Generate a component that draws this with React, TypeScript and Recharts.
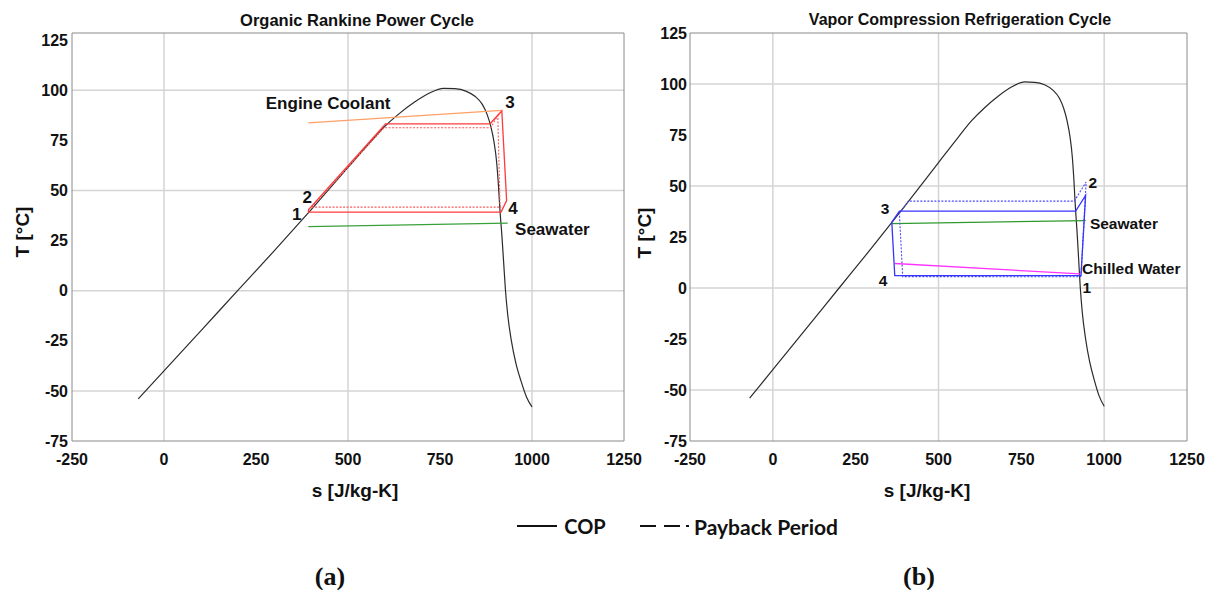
import React from "react";
import { LineChart, Line, XAxis, YAxis, ReferenceLine, ReferenceDot } from "recharts";

type Pt = { s: number; T: number };
const pts = (s: number[], T: number[]): Pt[] => s.map((v, i) => ({ s: v, T: T[i] }));
const range = (a: number, b: number, step: number) => {
  const out: number[] = [];
  for (let v = a; v <= b + 1e-9; v += step) out.push(v);
  return out;
};

// axes
const xTicks = [-250, 0, 250, 500, 750, 1000, 1250];
const yTicks = [-75, -50, -25, 0, 25, 50, 75, 100, 125];
const xMinor = range(-250, 1250, 50);
const yMinor = range(-75, 125, 5);
const xGrid = [0, 500, 1000];
const yGrid = [-50, 0, 50, 100];

// saturation dome, T-s
const domeS = [-70, 0, 100, 200, 300, 400, 500, 560, 600, 640, 680, 720, 760, 790, 820, 845, 865, 878, 888, 897, 904, 909, 913, 918, 923, 928, 934, 944, 956, 970, 985, 1000];
const domeT = [-54, -40, -20, 0, 20, 40.5, 61.5, 74, 82, 88.5, 94, 98.5, 101, 100.8, 99.6, 97, 93, 88, 82, 74, 64, 52, 40, 28, 14, 0, -12, -25, -36, -45, -53, -58];

// organic Rankine cycle: COP optimum (solid) / payback optimum (dashed)
const orcCopS = [392, 393, 602, 886, 918, 931, 916, 392];
const orcCopT = [39.2, 40.5, 83.3, 83.3, 89.7, 45, 39.2, 39.2];
const orcPayS = [401, 598, 888, 907, 913, 915, 401];
const orcPayT = [41.7, 81.3, 81.3, 87.5, 43, 41.7, 41.7];
const coolantS = [392, 918];
const coolantT = [83.8, 90];
const seaOrcS = [392, 934];
const seaOrcT = [32, 33.7];

// vapour compression cycle
const vcrCopS = [930, 944, 914, 382, 359, 368, 930];
const vcrCopT = [6.1, 45.4, 37.7, 37.7, 32.3, 6.1, 6.1];
const vcrPayS = [930, 945.5, 910, 409, 382, 392, 930];
const vcrPayT = [5.5, 52, 42.6, 42.6, 36.5, 5.6, 5.5];
const seaVcrS = [359, 944];
const seaVcrT = [31.6, 33];
const chilledS = [368, 927];
const chilledT = [12, 6.9];

type Note = { s: number; T: number; text: string; start?: boolean };
const orcNotes: Note[] = [
  { s: 446, T: 93.5, text: "Engine Coolant" },
  { s: 940, T: 94, text: "3" },
  { s: 389, T: 47, text: "2" },
  { s: 361, T: 38.5, text: "1" },
  { s: 948, T: 41.5, text: "4" },
  { s: 954, T: 31, text: "Seawater", start: true },
];
const vcrNotes: Note[] = [
  { s: 339, T: 39, text: "3" },
  { s: 966, T: 51.8, text: "2" },
  { s: 957, T: 31.6, text: "Seawater", start: true },
  { s: 933, T: 9.5, text: "Chilled Water", start: true },
  { s: 333, T: 3.6, text: "4" },
  { s: 948, T: 0.2, text: "1" },
];

type Series = { data: Pt[]; color: string; dash?: string; width?: number; smooth?: boolean };

const dome: Series = { data: pts(domeS, domeT), color: "#2b2b2b", width: 1.2, smooth: true };
const orcSeries: Series[] = [
  dome,
  { data: pts(coolantS, coolantT), color: "#ffa066", width: 1.3 },
  { data: pts(seaOrcS, seaOrcT), color: "#3aa03a", width: 1.3 },
  { data: pts(orcPayS, orcPayT), color: "#ff5a5a", dash: "2 1.5", width: 1.1 },
  { data: pts(orcCopS, orcCopT), color: "#ff3a3a", width: 1.3 },
];
const vcrSeries: Series[] = [
  dome,
  { data: pts(seaVcrS, seaVcrT), color: "#2e9a2e", width: 1.3 },
  { data: pts(chilledS, chilledT), color: "#ff33ff", width: 1.3 },
  { data: pts(vcrPayS, vcrPayT), color: "#4a4aff", dash: "2 1.5", width: 1.1 },
  { data: pts(vcrCopS, vcrCopT), color: "#3535ff", width: 1.3 },
];

const SANS = "'Liberation Sans', Arial, sans-serif";
const tickStyle = { fontSize: 16, fontWeight: 700, fill: "#111", fontFamily: SANS };
const edge = "#8a8a8a";

interface PanelProps {
  width: number;
  height: number;
  margin: { top: number; right: number; bottom: number; left: number };
  yMax: number;
  yAxisWidth: number;
  yTickMargin: number;
  noteSize: number;
  series: Series[];
  notes: Note[];
}

function Panel({ width, height, margin, yMax, yAxisWidth, yTickMargin, noteSize, series, notes }: PanelProps) {
  const xDom: [number, number] = [-250, 1250];
  const yDom: [number, number] = [-75, yMax];
  return (
    <LineChart width={width} height={height} margin={margin}>
      <XAxis xAxisId={0} type="number" dataKey="s" domain={xDom} ticks={xTicks} interval={0}
        axisLine={false} tickLine={false} tickSize={0} tickMargin={13} height={30} tick={tickStyle} allowDataOverflow />
      <XAxis xAxisId="bm" type="number" domain={xDom} ticks={xMinor} interval={0} mirror tick={false}
        tickSize={3} height={4} stroke={edge} />
      <XAxis xAxisId="tm" orientation="top" type="number" domain={xDom} ticks={xMinor} interval={0} mirror tick={false}
        tickSize={3} height={4} stroke={edge} />
      <YAxis yAxisId={0} type="number" dataKey="T" domain={yDom} ticks={yTicks} interval={0}
        axisLine={false} tickLine={false} tickSize={0} tickMargin={yTickMargin} width={yAxisWidth} tick={tickStyle} allowDataOverflow />
      <YAxis yAxisId="lm" type="number" domain={yDom} ticks={yMinor} interval={0} mirror tick={false}
        tickSize={3} width={4} stroke={edge} />
      <YAxis yAxisId="rm" orientation="right" type="number" domain={yDom} ticks={yMinor} interval={0} mirror tick={false}
        tickSize={3} width={4} stroke={edge} />
      {xGrid.map((v) => (
        <ReferenceLine key={"x" + v} x={v} stroke="#d4d4d4" strokeWidth={1.5} />
      ))}
      {yGrid.map((v) => (
        <ReferenceLine key={"y" + v} y={v} stroke="#d4d4d4" strokeWidth={1.5} />
      ))}
      {series.map((sr, i) => (
        <Line key={i} data={sr.data} dataKey="T" type={sr.smooth ? "monotoneX" : "linear"} stroke={sr.color}
          strokeWidth={sr.width ?? 1.2} strokeDasharray={sr.dash} dot={false} activeDot={false} isAnimationActive={false} />
      ))}
      {notes.map((n) => (
        <ReferenceDot key={n.text + n.s} x={n.s} y={n.T} r={0} fill="none" stroke="none"
          label={{ value: n.text, position: n.start ? "right" : "center", offset: 0,
            fontSize: noteSize, fontWeight: 700, fill: "#111", fontFamily: SANS }} />
      ))}
    </LineChart>
  );
}

const Txt = ({ x, y, size, children, font = SANS, rotate = 0 }: any) => (
  <div style={{
    position: "absolute", left: x, top: y, transform: `translate(-50%, -50%) rotate(${rotate}deg)`,
    fontFamily: font, fontWeight: 700, fontSize: size, color: "#111", whiteSpace: "nowrap", lineHeight: 1,
  }}>{children}</div>
);

const LEGEND_FONT = "Lato, 'Open Sans', sans-serif";
const SERIF = "'Liberation Serif', 'Times New Roman', serif";

export default function App() {
  return (
    <div style={{ position: "absolute", left: 0, top: 0, width: 1213, height: 590, background: "#fff", overflow: "hidden" }}>
      <div style={{ position: "absolute", left: 0, top: 0 }}>
        <Panel width={664} height={475} margin={{ top: 33, right: 40, bottom: 4, left: 12 }} yMax={128.6}
          yAxisWidth={60} yTickMargin={4} noteSize={17} series={orcSeries} notes={orcNotes} />
      </div>
      <div style={{ position: "absolute", left: 630, top: 0 }}>
        <Panel width={583} height={475} margin={{ top: 33, right: 26, bottom: 4, left: 10 }} yMax={125}
          yAxisWidth={50} yTickMargin={3} noteSize={15.5} series={vcrSeries} notes={vcrNotes} />
      </div>

      <Txt x={357} y={20} size={16.5}>Organic Rankine Power Cycle</Txt>
      <Txt x={960} y={20} size={16}>Vapor Compression Refrigeration Cycle</Txt>
      <Txt x={22} y={232} size={19} rotate={-90}>T [°C]</Txt>
      <Txt x={644} y={233} size={19} rotate={-90}>T [°C]</Txt>
      <Txt x={355} y={490} size={19}>s [J/kg-K]</Txt>
      <Txt x={927} y={490} size={19}>s [J/kg-K]</Txt>

      <svg style={{ position: "absolute", left: 0, top: 0 }} width={1213} height={590}>
        <line x1={517} y1={526} x2={557} y2={526} stroke="#111" strokeWidth={2} />
        <line x1={640} y1={526} x2={656} y2={526} stroke="#111" strokeWidth={2} />
        <line x1={664} y1={526} x2={680} y2={526} stroke="#111" strokeWidth={2} />
        <line x1={686} y1={526} x2={689} y2={526} stroke="#111" strokeWidth={2} />
      </svg>
      <Txt x={585} y={526} size={20} font={LEGEND_FONT}>COP</Txt>
      <Txt x={766} y={526} size={21} font={LEGEND_FONT}>Payback Period</Txt>

      <Txt x={330} y={577} size={26} font={SERIF}>(a)</Txt>
      <Txt x={919} y={577} size={26} font={SERIF}>(b)</Txt>
    </div>
  );
}
